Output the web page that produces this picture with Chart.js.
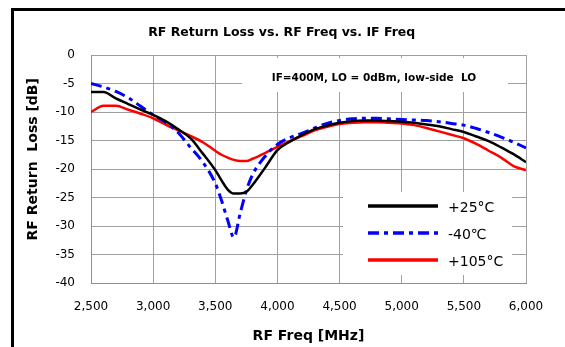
<!DOCTYPE html>
<html>
<head>
<meta charset="utf-8">
<script src="https://cdn.jsdelivr.net/npm/chart.js@4.4.1/dist/chart.umd.min.js"></script>
<style>
html,body{margin:0;padding:0;background:#fff;overflow:hidden}
#wrap{position:relative;width:565px;height:347px}
#frame{position:absolute;left:11px;top:8px;width:600px;height:400px;border:3px solid #000;box-sizing:border-box}
canvas{position:absolute;left:0;top:0}
</style>
</head>
<body>
<div id="wrap">
  <div id="frame"></div>
  <canvas id="chart" width="565" height="347"></canvas>
</div>
<script>
/* ---- data ---- */
const freqMHz = [2500,2600,2700,2800,2900,3000,3100,3200,3300,3400,3500,3550,3600,3650,3700,3750,3800,3900,
  4000,4100,4200,4300,4400,4500,4600,4700,4800,4900,5000,5100,5200,5300,5400,5500,5600,5700,5800,5900,6000];

const rl25 = [-6.5,-6.5,-7.6,-8.6,-9.6,-10.5,-11.6,-13.0,-14.6,-17.3,-20.2,-22.0,-23.6,-24.3,-24.3,-24.0,-22.8,-19.8,
  -16.7,-15.2,-14.0,-13.0,-12.4,-11.9,-11.6,-11.5,-11.5,-11.6,-11.7,-11.9,-12.2,-12.5,-13.0,-13.5,-14.3,-15.1,-16.2,-17.4,-18.8];

const rlM40 = [-5.0,-5.6,-6.4,-7.5,-9.0,-10.5,-11.8,-13.6,-16.2,-18.8,-22.5,-25.5,-29.0,-32.0,-27.8,-23.8,-21.0,-17.8,
  -15.7,-14.5,-13.7,-12.8,-12.0,-11.5,-11.2,-11.1,-11.1,-11.2,-11.3,-11.4,-11.5,-11.7,-12.0,-12.3,-12.9,-13.6,-14.4,-15.3,-16.3];

const rl105 = [-10.0,-8.9,-8.9,-9.6,-10.3,-11.1,-12.2,-13.2,-14.2,-15.3,-16.8,-17.5,-18.0,-18.4,-18.6,-18.6,-18.2,-17.2,
  -16.1,-15.1,-14.2,-13.2,-12.6,-12.1,-11.9,-11.8,-11.8,-11.9,-12.0,-12.3,-12.8,-13.4,-14.0,-14.6,-15.6,-16.8,-18.0,-19.5,-20.2];

const seriesLabels = ['+25°C', '-40℃', '+105°C'];
const noteText = 'IF=400M, LO = 0dBm, low-side  LO';

const pts = arr => arr.map((v,i)=>({x:freqMHz[i], y:v}));

/* ---- note box + legend inside the plot ---- */
const insideBits = {
  id:'insideBits',
  beforeDatasetsDraw(chart){
    const c = chart.ctx, a = chart.chartArea;
    c.save();
    // note
    c.fillStyle = '#fff';
    c.fillRect(a.left+151, a.top+3, a.right-a.left-169, 34);
    c.fillStyle = '#000';
    c.font = 'bold 10.5px "DejaVu Sans"';
    c.textAlign = 'center'; c.textBaseline = 'middle';
    c.fillText(noteText, a.left+283, a.top+23);
    // legend
    const lx = a.left+252, ly = a.top+137;
    c.fillStyle = '#fff';
    c.fillRect(lx, ly, a.right-14-lx, a.bottom-8-ly);
    c.font = '14px "DejaVu Sans"';
    c.textAlign = 'left';
    chart.data.datasets.forEach((ds,i)=>{
      const y = ly + 14 + i*27;
      c.strokeStyle = ds.borderColor;
      c.lineWidth = 3.5;
      c.setLineDash(ds.borderDash || []);
      c.beginPath(); c.moveTo(lx+25, y); c.lineTo(lx+95, y); c.stroke();
      c.fillStyle = '#000';
      c.fillText(ds.label, lx+105, y+2);
    });
    c.restore();
  }
};

const grid = { color:'#a0a0a0', lineWidth:1, drawTicks:false };

new Chart(document.getElementById('chart'), {
  type:'line',
  data:{
    datasets:[
      { label:seriesLabels[0], data:pts(rl25),  borderColor:'#000000', borderWidth:2.5 },
      { label:seriesLabels[1], data:pts(rlM40), borderColor:'#0000ff', borderWidth:3, borderDash:[11,5,4,5] },
      { label:seriesLabels[2], data:pts(rl105), borderColor:'#ff0000', borderWidth:2.5 }
    ]
  },
  options:{
    responsive:false,
    animation:false,
    events:[],
    elements:{ point:{radius:0}, line:{cubicInterpolationMode:'monotone'} },
    layout:{ padding:{left:20, right:39, top:10, bottom:0} },
    scales:{
      x:{
        type:'linear', min:2500, max:6000,
        grid,
        border:{ color:'#909090' },
        ticks:{ stepSize:500, padding:17, color:'#000', font:{family:'DejaVu Sans', size:12},
                callback:v=>v.toLocaleString('en-US') },
        title:{ display:true, text:'RF Freq [MHz]', color:'#000', padding:{top:0,bottom:2},
                font:{family:'DejaVu Sans', size:14, weight:'bold'} },
        afterFit:s=>{ s.height = 64; }
      },
      y:{
        min:-40, max:0,
        grid,
        border:{ color:'#909090' },
        ticks:{ stepSize:5, padding:16, color:'#000', font:{family:'DejaVu Sans', size:12} },
        title:{ display:true, text:'    RF Return  Loss [dB]', color:'#000', padding:{top:5,bottom:0},
                font:{family:'DejaVu Sans', size:14, weight:'bold'} },
        afterFit:s=>{ s.width = 71; }
      }
    },
    plugins:{
      legend:{ display:false },
      tooltip:{ enabled:false },
      title:{ display:true, text:'    RF Return Loss vs. RF Freq vs. IF Freq', color:'#000',
              padding:{top:15.5, bottom:14.5},
              font:{family:'DejaVu Sans', size:12.5, weight:'bold'} }
    }
  },
  plugins:[insideBits]
});
</script>
</body>
</html>
